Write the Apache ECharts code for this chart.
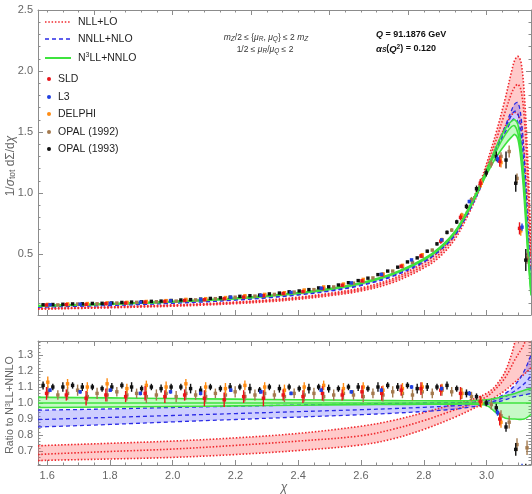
<!DOCTYPE html>
<html>
<head>
<meta charset="utf-8">
<script src="https://cdn.jsdelivr.net/npm/echarts@6/dist/echarts.min.js"></script>
<style>
html,body{margin:0;padding:0;background:#fff}
#chart{width:532px;height:494px}
</style>
</head>
<body>
<div id="chart"></div>
<script>
// ---- axis ticks ----
const xMajor = [1.6, 1.8, 2.0, 2.2, 2.4, 2.6, 2.8, 3.0];
const xTopMajor = [1.75, 2.0, 2.25, 2.5, 2.75, 3.0];
const xMinor = [1.6,1.65,1.7,1.75,1.8,1.85,1.9,1.95,2.0,2.05,2.1,2.15,2.2,2.25,2.3,2.35,2.4,2.45,2.5,2.55,2.6,2.65,2.7,2.75,2.8,2.85,2.9,2.95,3.0,3.05,3.1];
const yTopMajor = [0.5, 1.0, 1.5, 2.0, 2.5];
const yTopMinor = [0.1,0.2,0.3,0.4,0.6,0.7,0.8,0.9,1.1,1.2,1.3,1.4,1.6,1.7,1.8,1.9,2.1,2.2,2.3,2.4];
const yRatMajor = [0.7, 0.8, 0.9, 1.0, 1.1, 1.2, 1.3];
const yRatMinor = [0.62,0.64,0.66,0.68,0.72,0.74,0.76,0.78,0.82,0.84,0.86,0.88,0.92,0.94,0.96,0.98,1.02,1.04,1.06,1.08,1.12,1.14,1.16,1.18,1.22,1.24,1.26,1.28,1.32,1.34,1.36,1.38];

// ---- resummed predictions: 1/sigma dSigma/dchi (scale band low / central / high) ----
const chiTh = [1.5708,1.6,1.7,1.8,1.9,2.0,2.1,2.2,2.3,2.4,2.5,2.6,2.7,2.8,2.85,2.9,2.95,2.98,3.0,3.03,3.06,3.08,3.09,3.1,3.11,3.12,3.13,3.1416];
const nllLo  = [0.048,0.049,0.054,0.059,0.065,0.072,0.081,0.093,0.108,0.129,0.158,0.197,0.265,0.385,0.475,0.625,0.865,1.040,1.170,1.370,1.550,1.640,1.660,1.640,1.550,1.320,0.920,0.380];
const nllMid = [0.051,0.052,0.057,0.063,0.070,0.078,0.088,0.101,0.117,0.139,0.169,0.210,0.283,0.405,0.500,0.655,0.895,1.070,1.210,1.430,1.670,1.820,1.870,1.890,1.840,1.620,1.180,0.500];
const nllHi  = [0.055,0.057,0.062,0.067,0.075,0.083,0.093,0.106,0.123,0.146,0.178,0.222,0.298,0.428,0.525,0.677,0.918,1.090,1.240,1.490,1.780,2.000,2.090,2.120,2.070,1.820,1.350,0.600];
const nnllLo  = [0.064,0.066,0.072,0.078,0.086,0.096,0.107,0.122,0.140,0.164,0.195,0.241,0.315,0.433,0.525,0.655,0.878,1.040,1.165,1.350,1.500,1.590,1.610,1.580,1.420,1.100,0.660,0.200];
const nnllMid = [0.067,0.069,0.075,0.082,0.090,0.100,0.112,0.127,0.145,0.170,0.202,0.249,0.323,0.443,0.535,0.668,0.890,1.050,1.170,1.360,1.530,1.640,1.670,1.650,1.500,1.180,0.720,0.220];
const nnllHi  = [0.072,0.074,0.080,0.087,0.096,0.106,0.118,0.133,0.152,0.177,0.210,0.258,0.334,0.455,0.550,0.685,0.905,1.065,1.180,1.370,1.550,1.680,1.730,1.740,1.620,1.300,0.820,0.250];
const n3llLo  = [0.073,0.075,0.081,0.088,0.097,0.107,0.119,0.134,0.153,0.177,0.210,0.257,0.332,0.451,0.540,0.675,0.895,1.050,1.150,1.290,1.400,1.460,1.480,1.440,1.260,0.950,0.550,0.160];
const n3llMid = [0.075,0.077,0.083,0.090,0.099,0.109,0.121,0.136,0.155,0.180,0.213,0.260,0.335,0.455,0.545,0.680,0.900,1.060,1.170,1.340,1.480,1.545,1.550,1.490,1.320,1.020,0.600,0.180];
const n3llHi  = [0.078,0.080,0.086,0.093,0.102,0.112,0.124,0.139,0.159,0.184,0.217,0.265,0.340,0.462,0.553,0.689,0.912,1.074,1.190,1.375,1.530,1.590,1.600,1.560,1.390,1.090,0.660,0.200];

// ---- ratios to the N3LL+NNLO central curve ----
const chiRat = [1.5708,1.6,1.8,2.0,2.2,2.4,2.6,2.7,2.8,2.9,2.95,3.0,3.03,3.06,3.09,3.12,3.1416];
const rNllLo  = [0.640,0.642,0.650,0.660,0.678,0.703,0.738,0.775,0.835,0.912,0.958,1.008,1.040,1.080,1.130,1.180,1.220];
const rNllMid = [0.678,0.681,0.697,0.712,0.735,0.762,0.795,0.835,0.890,0.958,0.993,1.040,1.090,1.160,1.270,1.370,1.500];
const rNllHi  = [0.732,0.735,0.748,0.762,0.782,0.810,0.855,0.890,0.940,0.995,1.020,1.060,1.110,1.200,1.380,1.700,2.000];
const rNnllLo  = [0.851,0.852,0.866,0.882,0.897,0.912,0.927,0.936,0.947,0.962,0.975,0.992,1.005,1.020,1.040,1.050,1.060];
const rNnllMid = [0.897,0.898,0.910,0.922,0.934,0.946,0.958,0.965,0.973,0.983,0.990,1.000,1.015,1.040,1.075,1.120,1.170];
const rNnllHi  = [0.955,0.956,0.963,0.972,0.980,0.987,0.994,0.997,1.000,1.002,1.004,1.012,1.030,1.060,1.110,1.200,1.300];
const rN3Lo  = [0.972,0.972,0.975,0.978,0.982,0.986,0.990,0.991,0.992,0.993,0.993,0.985,0.940,0.905,0.900,0.900,0.930];
const rN3Mid = [1,1,1,1,1,1,1,1,1,1,1,1,1,1,1,1,1];
const rN3Hi  = [1.035,1.035,1.032,1.028,1.024,1.020,1.017,1.015,1.014,1.013,1.014,1.020,1.030,1.045,1.060,1.080,1.090];

// ---- measurements ----
// OPAL (1993)
const chiOpal93 = [1.587,1.618,1.650,1.681,1.712,1.744,1.775,1.806,1.838,1.869,1.901,1.932,1.963,1.995,2.026,2.057,2.089,2.120,2.152,2.183,2.214,2.246,2.277,2.308,2.340,2.371,2.403,2.434,2.465,2.497,2.528,2.560,2.591,2.622,2.654,2.685,2.717,2.748,2.779,2.811,2.842,2.874,2.905,2.936,2.968,2.999,3.031,3.062,3.093,3.125];
const valOpal93 = [0.084,0.086,0.088,0.091,0.092,0.095,0.096,0.099,0.103,0.106,0.108,0.112,0.114,0.119,0.123,0.126,0.130,0.136,0.141,0.146,0.153,0.158,0.163,0.173,0.180,0.190,0.197,0.208,0.222,0.231,0.246,0.265,0.282,0.302,0.331,0.360,0.392,0.435,0.468,0.523,0.583,0.677,0.763,0.890,1.035,1.165,1.300,1.270,1.080,0.450];
const errOpal93 = [0.003,0.003,0.003,0.003,0.003,0.003,0.003,0.003,0.003,0.003,0.003,0.003,0.003,0.003,0.003,0.003,0.003,0.003,0.003,0.003,0.004,0.004,0.004,0.004,0.004,0.004,0.004,0.004,0.005,0.005,0.005,0.005,0.006,0.006,0.007,0.007,0.008,0.009,0.010,0.012,0.014,0.016,0.018,0.022,0.026,0.030,0.040,0.070,0.070,0.090];
const ratOpal93 = [1.11,1.10,1.10,1.11,1.10,1.10,1.09,1.10,1.11,1.10,1.09,1.10,1.09,1.10,1.10,1.09,1.08,1.10,1.09,1.10,1.10,1.09,1.08,1.10,1.09,1.10,1.09,1.09,1.10,1.09,1.09,1.10,1.10,1.09,1.10,1.11,1.10,1.11,1.09,1.10,1.10,1.11,1.09,1.06,1.04,1.00,0.97,0.85,0.71,0.57];
const ratErrOpal93 = [0.025,0.020,0.030,0.020,0.025,0.020,0.020,0.025,0.020,0.030,0.020,0.020,0.025,0.020,0.020,0.030,0.025,0.020,0.020,0.025,0.020,0.030,0.020,0.020,0.025,0.020,0.020,0.030,0.020,0.025,0.020,0.020,0.025,0.020,0.030,0.020,0.025,0.020,0.030,0.025,0.020,0.025,0.020,0.025,0.020,0.020,0.025,0.030,0.040,0.050];
// OPAL (1992)
const chiOpal92 = [1.602,1.634,1.665,1.697,1.728,1.759,1.791,1.822,1.854,1.885,1.916,1.948,1.979,2.011,2.042,2.073,2.105,2.136,2.168,2.199,2.230,2.262,2.293,2.324,2.356,2.387,2.419,2.450,2.481,2.513,2.544,2.576,2.607,2.638,2.670,2.701,2.732,2.764,2.795,2.827,2.858,2.889,2.921,2.952,2.983,3.015,3.046,3.072,3.097,3.129];
const valOpal92 = [0.083,0.083,0.086,0.090,0.088,0.092,0.094,0.098,0.100,0.104,0.104,0.109,0.113,0.114,0.121,0.124,0.127,0.134,0.138,0.146,0.148,0.155,0.163,0.169,0.176,0.188,0.195,0.208,0.215,0.230,0.247,0.261,0.276,0.304,0.328,0.360,0.395,0.432,0.480,0.532,0.612,0.696,0.817,0.946,1.090,1.240,1.300,1.340,1.120,0.465];
const errOpal92 = [0.003,0.003,0.003,0.003,0.003,0.003,0.003,0.003,0.003,0.003,0.003,0.003,0.003,0.003,0.003,0.003,0.003,0.003,0.003,0.003,0.004,0.004,0.004,0.004,0.004,0.004,0.004,0.004,0.005,0.005,0.005,0.005,0.006,0.006,0.007,0.007,0.008,0.009,0.010,0.012,0.014,0.016,0.018,0.022,0.026,0.030,0.035,0.050,0.040,0.045];
const ratOpal92 = [1.07,1.05,1.06,1.08,1.04,1.06,1.05,1.07,1.05,1.06,1.04,1.05,1.06,1.04,1.06,1.05,1.04,1.06,1.05,1.07,1.04,1.05,1.06,1.05,1.04,1.06,1.05,1.06,1.04,1.05,1.06,1.05,1.04,1.06,1.05,1.07,1.06,1.05,1.07,1.06,1.08,1.07,1.06,1.04,1.01,0.99,0.92,0.88,0.74,0.72];
const ratErrOpal92 = [0.035,0.030,0.040,0.035,0.030,0.035,0.040,0.030,0.035,0.030,0.040,0.035,0.030,0.035,0.040,0.030,0.035,0.030,0.040,0.035,0.030,0.035,0.040,0.030,0.035,0.030,0.040,0.035,0.030,0.035,0.040,0.030,0.035,0.030,0.040,0.035,0.030,0.035,0.040,0.030,0.035,0.030,0.035,0.030,0.030,0.030,0.035,0.040,0.040,0.045];
// DELPHI
const chiDelphi = [1.602,1.665,1.728,1.791,1.854,1.916,1.979,2.042,2.105,2.168,2.230,2.293,2.356,2.419,2.481,2.544,2.607,2.670,2.732,2.795,2.858,2.921,2.983,3.046,3.109];
const valDelphi = [0.087,0.091,0.094,0.100,0.104,0.111,0.118,0.128,0.134,0.143,0.158,0.169,0.183,0.205,0.230,0.254,0.292,0.337,0.407,0.494,0.618,0.817,1.080,1.250,0.690];
const errDelphi = [0.004,0.004,0.004,0.004,0.004,0.004,0.004,0.004,0.004,0.004,0.004,0.004,0.005,0.005,0.005,0.005,0.006,0.008,0.010,0.012,0.016,0.022,0.030,0.040,0.040];
const ratDelphi = [1.13,1.12,1.10,1.12,1.09,1.11,1.10,1.12,1.10,1.09,1.11,1.10,1.08,1.10,1.11,1.09,1.10,1.08,1.09,1.10,1.09,1.06,1.00,0.88,0.55];
const ratErrDelphi = [0.035,0.030,0.030,0.035,0.030,0.030,0.035,0.030,0.030,0.035,0.030,0.030,0.035,0.030,0.030,0.035,0.030,0.030,0.035,0.030,0.030,0.030,0.030,0.035,0.040];
// SLD
const chiSld = [1.598,1.661,1.724,1.787,1.850,1.912,1.975,2.038,2.101,2.164,2.226,2.289,2.352,2.415,2.477,2.540,2.603,2.666,2.728,2.791,2.854,2.917,2.980,3.042,3.105];
const valSld = [0.082,0.085,0.087,0.093,0.098,0.106,0.111,0.119,0.125,0.133,0.147,0.158,0.176,0.192,0.217,0.244,0.280,0.329,0.400,0.484,0.605,0.800,1.080,1.260,0.710];
const errSld = [0.005,0.005,0.005,0.005,0.005,0.005,0.005,0.005,0.005,0.005,0.005,0.005,0.006,0.006,0.006,0.006,0.008,0.010,0.012,0.015,0.020,0.025,0.035,0.045,0.050];
const ratSld = [1.06,1.05,1.03,1.05,1.04,1.06,1.04,1.05,1.03,1.02,1.04,1.03,1.05,1.04,1.06,1.05,1.07,1.06,1.08,1.09,1.08,1.06,1.01,0.90,0.50];
const ratErrSld = [0.040,0.035,0.045,0.040,0.035,0.045,0.040,0.035,0.050,0.045,0.040,0.050,0.035,0.040,0.045,0.035,0.040,0.045,0.035,0.040,0.035,0.040,0.035,0.040,0.045];
// L3
const chiL3 = [1.609,1.705,1.801,1.897,1.993,2.089,2.185,2.281,2.377,2.473,2.569,2.665,2.761,2.857,2.945,3.035,3.113];
const valL3 = [0.084,0.089,0.097,0.105,0.116,0.127,0.145,0.162,0.185,0.220,0.263,0.334,0.452,0.616,0.930,1.280,0.720];
const errL3 = [0.002,0.002,0.002,0.002,0.002,0.002,0.002,0.002,0.002,0.002,0.003,0.004,0.006,0.008,0.015,0.030,0.030];
const ratL3 = [1.08,1.07,1.08,1.06,1.07,1.06,1.08,1.07,1.06,1.08,1.07,1.08,1.10,1.09,1.06,0.94,0.59];
const ratErrL3 = [0.012,0.012,0.012,0.012,0.012,0.012,0.012,0.012,0.012,0.012,0.012,0.012,0.012,0.012,0.015,0.020,0.030];

// ---- styling ----
const FONT = '"Liberation Sans", Arial, sans-serif';
const FRAME = '#8c8c8c';
const TICKTXT = '#666';
const C_NLL = '#f0282d', C_NNLL = '#2a2ae6', C_N3LL = '#3ee33e';
const F_NLL = 'rgba(255,80,80,0.30)', F_NNLL = 'rgba(80,80,255,0.28)', F_N3LL = 'rgba(70,235,70,0.30)';
const C_SLD = '#e8141a', C_L3 = '#2040e0', C_DELPHI = '#ff8c14', C_OPAL92 = '#a47a4e', C_OPAL93 = '#111';
const XMIN = 1.5708, XMAX = 3.1416;
const SM = 0.35;

function xAx(grid, pos, ticks, len, showLine, labels) {
  return {
    type: 'value', gridIndex: grid, position: pos, min: XMIN, max: XMAX,
    axisLine: { show: showLine, onZero: false, lineStyle: { color: FRAME, width: 1 } },
    axisTick: { show: true, inside: true, length: len, customValues: ticks, lineStyle: { color: FRAME, width: 1 } },
    axisLabel: labels ? { show: true, customValues: ticks, color: TICKTXT, fontSize: 11, fontFamily: FONT, margin: 5,
      formatter: v => v.toFixed(1) } : { show: false },
    splitLine: { show: false }
  };
}
function yAx(grid, pos, min, max, ticks, len, showLine, labels) {
  return {
    type: 'value', gridIndex: grid, position: pos, min: min, max: max,
    axisLine: { show: showLine, onZero: false, lineStyle: { color: FRAME, width: 1 } },
    axisTick: { show: true, inside: true, length: len, customValues: ticks, lineStyle: { color: FRAME, width: 1 } },
    axisLabel: labels ? { show: true, customValues: ticks, color: TICKTXT, fontSize: 11, fontFamily: FONT, margin: 5,
      formatter: v => v.toFixed(1) } : { show: false },
    splitLine: { show: false }
  };
}

const xAxes = [
  xAx(0, 'bottom', xMajor, 5, true, false),
  xAx(0, 'bottom', xMinor, 2.5, false, false),
  xAx(0, 'top', xTopMajor, 5, true, false),
  xAx(0, 'top', xMinor, 2.5, false, false),
  xAx(1, 'bottom', xMajor, 5, true, true),
  xAx(1, 'bottom', xMinor, 2.5, false, false),
  xAx(1, 'top', xTopMajor, 5, true, false),
  xAx(1, 'top', xMinor, 2.5, false, false)
];
const yAxes = [
  yAx(0, 'left', 0, 2.5, yTopMajor, 5, true, true),
  yAx(0, 'left', 0, 2.5, yTopMinor, 2.5, false, false),
  yAx(0, 'right', 0, 2.5, yTopMajor, 5, true, false),
  yAx(0, 'right', 0, 2.5, yTopMinor, 2.5, false, false),
  yAx(1, 'left', 0.6125, 1.3875, yRatMajor, 5, true, true),
  yAx(1, 'left', 0.6125, 1.3875, yRatMinor, 2.5, false, false),
  yAx(1, 'right', 0.6125, 1.3875, yRatMajor, 5, true, false),
  yAx(1, 'right', 0.6125, 1.3875, yRatMinor, 2.5, false, false)
];

// filled scale band between the low and high variations
function band(xs, lo, hi, fill, ax) {
  return { type: 'custom', xAxisIndex: ax, yAxisIndex: ax, silent: true, clip: true, z: 1,
    data: [[xs[0], lo[0]]],
    renderItem: function (params, api) {
      const pts = [];
      for (let i = 0; i < xs.length; i++) pts.push(api.coord([xs[i], hi[i]]));
      for (let i = xs.length - 1; i >= 0; i--) pts.push(api.coord([xs[i], lo[i]]));
      return { type: 'polygon', shape: { points: pts, smooth: SM }, style: { fill: fill, stroke: null } };
    } };
}
function curve(xs, ys, color, dash, width, ax) {
  return { type: 'custom', xAxisIndex: ax, yAxisIndex: ax, silent: true, clip: true, z: 3,
    data: [[xs[0], ys[0]]],
    renderItem: function (params, api) {
      const pts = xs.map((x, i) => api.coord([x, ys[i]]));
      return { type: 'polyline', shape: { points: pts, smooth: SM },
        style: { stroke: color, lineWidth: width, lineDash: dash, fill: null } };
    } };
}
function errBars(color) {
  return function (params, api) {
    const cs = params.coordSys;
    const x = api.value(0), v = api.value(1), e = api.value(2);
    const p = api.coord([x, v]);
    const a = api.coord([x, v + e])[1];
    const b = api.coord([x, v - e])[1];
    const y0 = cs.y, y1 = cs.y + cs.height;
    const kids = [];
    const ta = Math.max(a, y0), tb = Math.min(b, y1);
    if (tb > ta) kids.push({ type: 'line', shape: { x1: p[0], y1: ta, x2: p[0], y2: tb }, style: { stroke: color, lineWidth: 1.4 } });
    if (p[1] >= y0 && p[1] <= y1) kids.push({ type: 'rect', shape: { x: p[0] - 1.7, y: p[1] - 1.7, width: 3.4, height: 3.4 }, style: { fill: color } });
    return { type: 'group', children: kids };
  };
}
function points(xs, vs, es, color, ax) {
  return { type: 'custom', xAxisIndex: ax, yAxisIndex: ax, silent: true, z: 5,
    encode: { x: 0, y: 1 }, renderItem: errBars(color), data: xs.map((x, i) => [x, vs[i], es[i]]) };
}

const UP = 0, LOW = 4;
const DOT = [1.5, 1.8], DASH = [4, 3], SOLID = null;
const series = [
  band(chiTh, nllLo, nllHi, F_NLL, UP),
  band(chiTh, nnllLo, nnllHi, F_NNLL, UP),
  band(chiTh, n3llLo, n3llHi, F_N3LL, UP),
  band(chiRat, rNllLo, rNllHi, F_NLL, LOW),
  band(chiRat, rNnllLo, rNnllHi, F_NNLL, LOW),
  band(chiRat, rN3Lo, rN3Hi, F_N3LL, LOW),
  curve(chiTh, nllLo, C_NLL, DOT, 1.6, UP),
  curve(chiTh, nllMid, C_NLL, DOT, 1.6, UP),
  curve(chiTh, nllHi, C_NLL, DOT, 1.6, UP),
  curve(chiTh, nnllLo, C_NNLL, DASH, 1.3, UP),
  curve(chiTh, nnllMid, C_NNLL, DASH, 1.3, UP),
  curve(chiTh, nnllHi, C_NNLL, DASH, 1.3, UP),
  curve(chiTh, n3llLo, C_N3LL, SOLID, 1.6, UP),
  curve(chiTh, n3llMid, C_N3LL, SOLID, 1.6, UP),
  curve(chiTh, n3llHi, C_N3LL, SOLID, 1.6, UP),
  curve(chiRat, rNllLo, C_NLL, DOT, 1.6, LOW),
  curve(chiRat, rNllMid, C_NLL, DOT, 1.6, LOW),
  curve(chiRat, rNllHi, C_NLL, DOT, 1.6, LOW),
  curve(chiRat, rNnllLo, C_NNLL, DASH, 1.3, LOW),
  curve(chiRat, rNnllMid, C_NNLL, DASH, 1.3, LOW),
  curve(chiRat, rNnllHi, C_NNLL, DASH, 1.3, LOW),
  curve(chiRat, rN3Lo, C_N3LL, SOLID, 1.6, LOW),
  curve(chiRat, rN3Mid, C_N3LL, SOLID, 1.6, LOW),
  curve(chiRat, rN3Hi, C_N3LL, SOLID, 1.6, LOW),
  points(chiOpal92, valOpal92, errOpal92, C_OPAL92, UP),
  points(chiOpal93, valOpal93, errOpal93, C_OPAL93, UP),
  points(chiDelphi, valDelphi, errDelphi, C_DELPHI, UP),
  points(chiSld, valSld, errSld, C_SLD, UP),
  points(chiL3, valL3, errL3, C_L3, UP),
  points(chiOpal92, ratOpal92, ratErrOpal92, C_OPAL92, LOW),
  points(chiOpal93, ratOpal93, ratErrOpal93, C_OPAL93, LOW),
  points(chiDelphi, ratDelphi, ratErrDelphi, C_DELPHI, LOW),
  points(chiSld, ratSld, ratErrSld, C_SLD, LOW),
  points(chiL3, ratL3, ratErrL3, C_L3, LOW)
];

// legend, annotations and axis titles
const LEG = '#1e1e1e';
const legendTxt = (x, y, t, rich) => ({ type: 'text', x: x, y: y, silent: true,
  style: { text: t, fill: LEG, fontSize: 10.5, fontFamily: FONT, verticalAlign: 'middle', rich: rich } });
const dot = (y, c) => ({ type: 'circle', shape: { cx: 49, cy: y, r: 2 }, style: { fill: c }, silent: true });
const supRich = { s: { fontSize: 7, verticalAlign: 'top', fill: LEG, fontFamily: FONT, padding: [0, 0, 5, 0] } };

const graphic = [
  { type: 'line', shape: { x1: 45, y1: 22, x2: 71, y2: 22 }, style: { stroke: C_NLL, lineWidth: 1.6, lineDash: [1.5, 1.8] }, silent: true },
  legendTxt(78, 22, 'NLL+LO'),
  { type: 'line', shape: { x1: 45, y1: 39, x2: 71, y2: 39 }, style: { stroke: C_NNLL, lineWidth: 1.3, lineDash: [4, 3] }, silent: true },
  legendTxt(78, 39, 'NNLL+NLO'),
  { type: 'line', shape: { x1: 45, y1: 58, x2: 71, y2: 58 }, style: { stroke: C_N3LL, lineWidth: 2 }, silent: true },
  legendTxt(78, 58, 'N{s|3}LL+NNLO', supRich),
  dot(79, C_SLD), legendTxt(58, 79, 'SLD'),
  dot(97, C_L3), legendTxt(58, 97, 'L3'),
  dot(114, C_DELPHI), legendTxt(58, 114, 'DELPHI'),
  dot(132, C_OPAL92), legendTxt(58, 132, 'OPAL (1992)'),
  dot(149, C_OPAL93), legendTxt(58, 149, 'OPAL (1993)'),
  { type: 'text', x: 266, y: 38, silent: true, style: {
    text: '{i|m}{sb|Z}/2 ≤ {{i|μ}{sb|R}, {i|μ}{sb|Q}} ≤ 2 {i|m}{sb|Z}', fill: '#333', fontSize: 8.5, fontFamily: FONT,
    align: 'center', verticalAlign: 'middle',
    rich: { i: { fontStyle: 'italic', fontSize: 8.5, fill: '#333', fontFamily: FONT },
            sb: { fontSize: 6.5, fontStyle: 'italic', fill: '#333', verticalAlign: 'bottom', fontFamily: FONT } } } },
  { type: 'text', x: 265, y: 50, silent: true, style: {
    text: '1/2 ≤ {i|μ}{sb|R}/{i|μ}{sb|Q} ≤ 2', fill: '#333', fontSize: 8.5, fontFamily: FONT,
    align: 'center', verticalAlign: 'middle',
    rich: { i: { fontStyle: 'italic', fontSize: 8.5, fill: '#333', fontFamily: FONT },
            sb: { fontSize: 6.5, fontStyle: 'italic', fill: '#333', verticalAlign: 'bottom', fontFamily: FONT } } } },
  { type: 'text', x: 376, y: 35, silent: true, style: {
    text: '{i|Q} = 91.1876 GeV', fill: '#111', fontSize: 9, fontWeight: 'bold', fontFamily: FONT, verticalAlign: 'middle',
    rich: { i: { fontStyle: 'italic', fontWeight: 'bold', fontSize: 9, fill: '#111', fontFamily: FONT } } } },
  { type: 'text', x: 376, y: 49, silent: true, style: {
    text: '{i|α}{sb|S}({i|Q}{sp|2}) = 0.120', fill: '#111', fontSize: 9, fontWeight: 'bold', fontFamily: FONT, verticalAlign: 'middle',
    rich: { i: { fontStyle: 'italic', fontWeight: 'bold', fontSize: 9.5, fill: '#111', fontFamily: FONT },
            sb: { fontStyle: 'italic', fontWeight: 'bold', fontSize: 6.5, fill: '#111', verticalAlign: 'bottom', fontFamily: FONT },
            sp: { fontWeight: 'bold', fontSize: 6.5, fill: '#111', verticalAlign: 'top', fontFamily: FONT } } } },
  { type: 'text', x: 11, y: 166, rotation: Math.PI / 2, silent: true, style: {
    text: '1/{i|σ}{sb|tot} dΣ/d{i|χ}', fill: '#666', fontSize: 12, fontFamily: FONT, align: 'center', verticalAlign: 'middle',
    rich: { i: { fontStyle: 'italic', fontSize: 12, fill: '#666', fontFamily: FONT },
            sb: { fontSize: 8.5, fill: '#666', verticalAlign: 'bottom', fontFamily: FONT } } } },
  { type: 'text', x: 10, y: 405, rotation: Math.PI / 2, silent: true, style: {
    text: 'Ratio to N{sp|3}LL+NNLO', fill: '#666', fontSize: 10.5, fontFamily: FONT, align: 'center', verticalAlign: 'middle',
    rich: { sp: { fontSize: 7, fill: '#666', verticalAlign: 'top', fontFamily: FONT } } } },
  { type: 'text', x: 284, y: 488, silent: true, style: {
    text: 'χ', fill: '#666', fontSize: 12, fontStyle: 'italic', fontFamily: FONT, align: 'center', verticalAlign: 'middle' } }
];

const chart = echarts.init(document.getElementById('chart'), null, { renderer: 'canvas' });
chart.setOption({
  animation: false,
  backgroundColor: '#fff',
  grid: [
    { left: 38, top: 10, width: 493, height: 305, containLabel: false, outerBoundsMode: 'none' },
    { left: 38, top: 341, width: 493, height: 124, containLabel: false, outerBoundsMode: 'none' }
  ],
  xAxis: xAxes,
  yAxis: yAxes,
  series: series,
  graphic: graphic
});
</script>
</body>
</html>
